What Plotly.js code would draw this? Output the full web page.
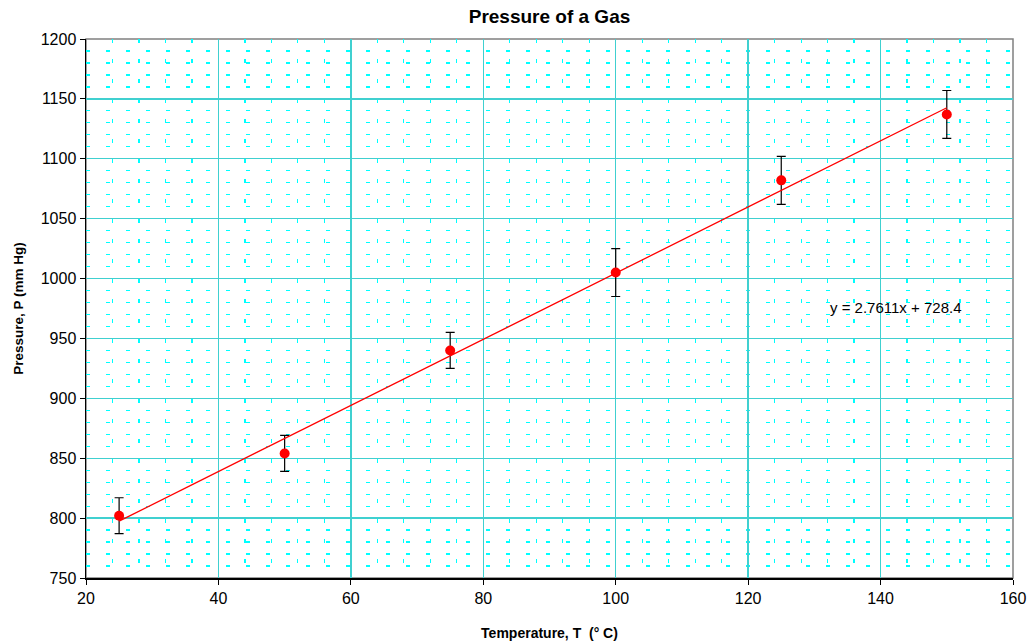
<!DOCTYPE html>
<html><head><meta charset="utf-8">
<script src="https://cdn.plot.ly/plotly-3.0.1.min.js"></script>
<style>html,body{margin:0;padding:0;background:#fff}#chart{width:1030px;height:643px}</style>
</head><body><div id="chart"></div>
<script>
const temperature = [25, 50, 75, 100, 125, 150];
const pressure = [802, 854, 940, 1005, 1082, 1137];
const pressureError = [15, 15, 15, 20, 20, 20];
const trendSlope = 2.7611;
const trendIntercept = 728.4;
const trendX = [25, 150];
const trendY = trendX.map(x => trendSlope * x + trendIntercept);
const equationLabel = "y = 2.7611x + 728.4";
const equationPos = [132, 976];

const font = "Arial, 'Liberation Sans', sans-serif";
const data = [
  {x: temperature, y: pressure, type: 'scatter', mode: 'markers',
   marker: {color: '#ff0000', size: 10},
   error_y: {type: 'data', array: pressureError, visible: true, color: '#000000', thickness: 1.2, width: 4.5},
   showlegend: false, hoverinfo: 'x+y'},
  {x: trendX, y: trendY, type: 'scatter', mode: 'lines',
   line: {color: '#ff0000', width: 1.3}, showlegend: false, hoverinfo: 'skip'}
];
const layout = {
  width: 1030, height: 643,
  margin: {l: 86, r: 17, t: 39, b: 65},
  paper_bgcolor: '#ffffff', plot_bgcolor: '#ffffff',
  font: {family: font, color: '#000'},
  title: {text: '<b>Pressure of a Gas</b>', font: {size: 19, family: font, color: '#000'}, x: 0.5, xanchor: 'center', xref: 'paper', y: 0.974, yanchor: 'middle'},
  xaxis: {
    range: [20, 160], dtick: 20, tick0: 20,
    showgrid: true, gridcolor: '#40d0d0', gridwidth: 1.3,
    minor: {dtick: 4, showgrid: true, gridcolor: '#00ffff', griddash: '4px,16px', gridwidth: 1.2},
    showline: true, linecolor: '#000', linewidth: 1.5,
    ticks: 'outside', ticklen: 5, tickcolor: '#000',
    tickfont: {size: 16, family: font},
    zeroline: false,
    title: {text: '<b>Temperature, T  (° C)</b>', font: {size: 14, family: font}, standoff: 22}
  },
  yaxis: {
    range: [750, 1200], dtick: 50, tick0: 750,
    showgrid: true, gridcolor: '#40d0d0', gridwidth: 1.3,
    minor: {dtick: 10, showgrid: true, gridcolor: '#00ffff', griddash: '4px,16px', gridwidth: 1.2},
    showline: true, linecolor: '#000', linewidth: 1.5,
    ticks: 'outside', ticklen: 5, tickcolor: '#000',
    tickfont: {size: 16, family: font},
    zeroline: false,
    title: {text: '<b>Pressure, P (mm Hg)</b>', font: {size: 13.5, family: font}, standoff: 14}
  },
  shapes: [{type: 'rect', xref: 'paper', yref: 'paper', x0: 0, x1: 1, y0: 0, y1: 1,
            line: {color: '#808080', width: 1.5}, layer: 'below'}],
  annotations: [{x: equationPos[0], y: equationPos[1], xref: 'x', yref: 'y', text: equationLabel,
    showarrow: false, xanchor: 'left', yanchor: 'middle', font: {size: 15, family: font, color: '#000'}}]
};
Plotly.newPlot('chart', data, layout, {displayModeBar: false, staticPlot: true});
</script></body></html>
